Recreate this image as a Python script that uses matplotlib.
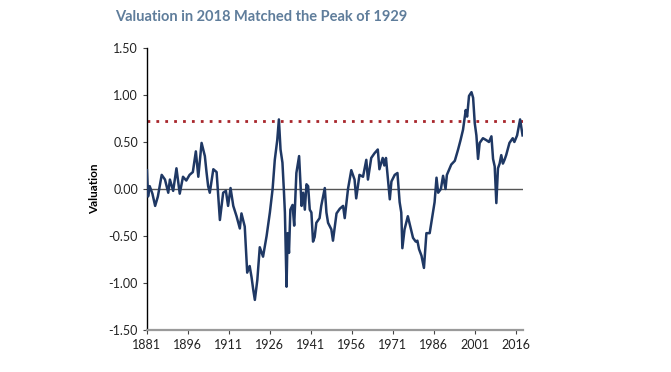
import matplotlib.pyplot as plt

# Valores (ano, valuation)
anos = [1881.0, 1881.4, 1882.0, 1883.0, 1884.0, 1885.0, 1886.4, 1887.6, 1888.8, 1889.4,
        1890.6, 1891.8, 1893.0, 1894.2, 1895.4, 1896.6, 1897.8, 1898.9, 1899.8, 1901.0,
        1902.2, 1902.8, 1903.4, 1904.0, 1905.3, 1906.5, 1907.7, 1908.9, 1909.9, 1910.7,
        1911.6, 1912.6, 1913.8, 1915.0, 1915.6, 1916.8, 1917.7, 1918.6, 1919.3, 1919.9,
        1920.5, 1921.4, 1922.3, 1923.5, 1924.8, 1926.0, 1927.0, 1927.8, 1928.7, 1929.3,
        1929.9, 1930.6, 1931.1, 1931.5, 1932.1, 1932.5, 1933.0, 1933.5, 1934.3, 1934.9,
        1935.7, 1936.7, 1937.6, 1938.2, 1938.8, 1939.4, 1940.0, 1940.6, 1941.2, 1941.8,
        1942.4, 1943.0, 1944.2, 1944.8, 1946.1, 1946.7, 1947.3, 1948.5, 1949.1, 1950.4,
        1951.6, 1952.8, 1953.4, 1954.6, 1955.8, 1957.0, 1957.6, 1958.8, 1960.1, 1961.3,
        1961.9, 1963.1, 1964.3, 1965.5, 1966.1, 1967.3, 1967.9, 1968.5, 1969.9, 1970.5,
        1971.7, 1972.7, 1973.5, 1974.1, 1974.5, 1975.3, 1976.5, 1977.4, 1978.4, 1979.4,
        1980.0, 1980.6, 1981.5, 1982.4, 1983.3, 1984.5, 1985.1, 1986.3, 1987.0, 1987.6,
        1988.6, 1989.4, 1990.3, 1990.8, 1992.4, 1993.7, 1994.9, 1995.8, 1996.7, 1997.7,
        1998.2, 1998.9, 1999.8, 2000.4, 2001.0, 2001.6, 2002.2, 2002.8, 2004.0, 2005.2,
        2006.2, 2007.1, 2007.7, 2008.3, 2008.9, 2009.5, 2010.1, 2010.7, 2011.3, 2011.9,
        2012.5, 2013.7, 2014.9, 2015.5, 2016.5, 2017.6, 2018.5]
valuation = [0.20, -0.08, 0.03, -0.05, -0.18, -0.08, 0.15, 0.10, -0.04, 0.10,
             -0.02, 0.22, -0.05, 0.13, 0.09, 0.15, 0.18, 0.40, 0.13, 0.49,
             0.35, 0.18, 0.03, -0.04, 0.21, 0.18, -0.33, -0.04, -0.02, -0.18,
             0.01, -0.18, -0.29, -0.42, -0.26, -0.40, -0.89, -0.82, -0.94, -1.07,
             -1.18, -0.97, -0.62, -0.72, -0.50, -0.25, 0.00, 0.31, 0.52, 0.74,
             0.42, 0.28, 0.00, -0.25, -1.04, -0.47, -0.68, -0.22, -0.17, -0.39,
             0.17, 0.35, -0.18, -0.04, -0.22, 0.05, 0.03, -0.22, -0.25, -0.56,
             -0.51, -0.36, -0.31, -0.18, 0.01, -0.25, -0.36, -0.43, -0.55, -0.26,
             -0.21, -0.18, -0.31, 0.00, 0.20, 0.10, -0.10, 0.15, 0.13, 0.31,
             0.10, 0.33, 0.38, 0.42, 0.21, 0.33, 0.25, 0.33, -0.11, 0.08,
             0.15, 0.17, -0.14, -0.25, -0.63, -0.43, -0.29, -0.40, -0.52, -0.56,
             -0.55, -0.64, -0.71, -0.84, -0.47, -0.47, -0.36, -0.14, 0.12, -0.04,
             0.00, 0.14, 0.00, 0.15, 0.26, 0.30, 0.42, 0.52, 0.63, 0.84,
             0.77, 0.99, 1.03, 0.97, 0.70, 0.57, 0.32, 0.49, 0.54, 0.52,
             0.50, 0.56, 0.32, 0.24, -0.15, 0.22, 0.27, 0.36, 0.27, 0.31,
             0.36, 0.49, 0.54, 0.50, 0.57, 0.74, 0.57]

pico_1929 = 0.72
anos_ticks = [1881, 1896, 1911, 1926, 1941, 1956, 1971, 1986, 2001, 2016]
y_ticks = [1.5, 1.0, 0.5, 0.0, -0.5, -1.0, -1.5]

plt.rcParams["font.family"] = ["Lato", "DejaVu Sans"]

fig = plt.figure(figsize=(6.71, 3.72), dpi=100)
ax = fig.add_axes([0.219, 0.113, 0.561, 0.758])

ax.axhline(0, color="#555555", lw=1.0, zorder=1)
ax.axhline(pico_1929, color="#a8262b", lw=2.0, ls=(0, (1, 2.2)), zorder=2)
ax.plot(anos, valuation, color="#1f3864", lw=1.8, zorder=3)

ax.set_xlim(1881, 2018.8)
ax.set_ylim(-1.5, 1.5)
ax.set_xticks(anos_ticks)
ax.set_yticks(y_ticks)
ax.set_yticklabels([f"{v:.2f}" for v in y_ticks])
ax.tick_params(axis="both", labelsize=9, length=3, color="#444444", labelcolor="#222222")

for lado in ["top", "right"]:
    ax.spines[lado].set_visible(False)
ax.spines["left"].set_color("black")
ax.spines["left"].set_linewidth(1.0)
ax.spines["bottom"].set_color("#9a9a9a")
ax.spines["bottom"].set_linewidth(1.6)

ax.set_ylabel("Valuation", fontsize=8.5, fontweight="bold", labelpad=6)

fig.text(0.172, 0.955, "Valuation in 2018 Matched the Peak of 1929", fontsize=10.5,
         fontweight="bold", color="#5f7d9b", ha="left", va="center")

fig.savefig("out.png", dpi=100)
